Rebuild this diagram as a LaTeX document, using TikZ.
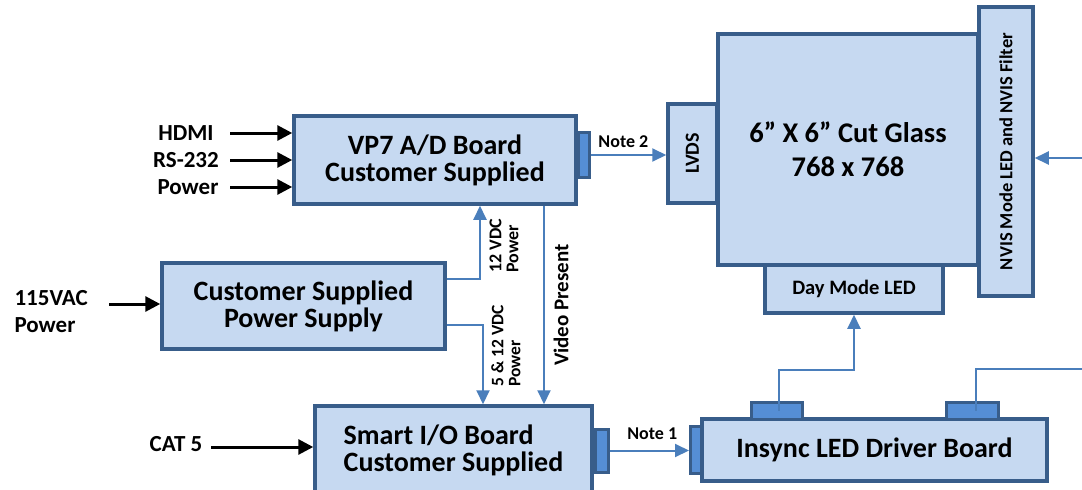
\documentclass[tikz,border=0pt]{standalone}
\usepackage{fontspec}
\setmainfont{Carlito}
\usepackage{graphicx}
\usetikzlibrary{arrows.meta, positioning}

\begin{document}
\begin{tikzpicture}[
    x=1pt, y=-1pt,
    font=\bfseries,
    box/.style={
    	draw=my-dark, fill=my-light,
    	line width=3.5pt, inner sep=0pt, align=center,
    	font=\bfseries\fontsize{28}{27}\selectfont
    }, plug/.style={
    	draw=my-dark, fill=my-mid,
    	line width=3pt, inner sep=0pt
    }, pil/.style={
    	-{Triangle[length=14pt,width=13pt]},
    	draw=my-line, line width=2pt
    }, feed/.style={
    	-{Triangle[length=15pt,width=15pt]},
    	line width=3pt
    }, lbl/.style={
    	font=\bfseries\fontsize{23}{27}\selectfont
    }, note/.style={
    	font=\bfseries\fontsize{18}{17}\selectfont
    }]
    \definecolor{my-light}{RGB}{198, 217, 241}
    \definecolor{my-dark}{RGB}{56, 93, 138}
    \definecolor{my-mid}{RGB}{85, 142, 213}
    \definecolor{my-line}{RGB}{74, 126, 187}

    \useasboundingbox (0,0) rectangle (1082,490);

    %%% BOARDS
    \node[box, minimum width=282pt, minimum height=88pt] (vp7) at (435,160) {VP7 A/D Board\\Customer Supplied};
    \node[box, minimum width=283pt, minimum height=86pt] (psu) at (303.5,306) {Customer Supplied\\Power Supply};
    \node[box, minimum width=277pt, minimum height=89pt, align=left] (smart) at (453.5,450.5) {Smart I/O Board\\Customer Supplied};
    \node[box, minimum width=345pt, minimum height=62pt] (insync) at (874.5,450) {Insync LED Driver Board};

    %%% DISPLAY
    \node[box, minimum width=260pt, minimum height=231pt, font=\bfseries\fontsize{28.5}{34}\selectfont] (glass) at (848,149.5) {6” X 6” Cut Glass\\768 x 768};
    \node[box, minimum width=49pt, minimum height=99pt, font=\bfseries\fontsize{20}{20}\selectfont] (lvds) at (692.5,153.5) {\rotatebox{90}{LVDS}};
    \node[box, minimum width=54pt, minimum height=289pt, font=\bfseries\fontsize{18.5}{18}\selectfont] (nvis) at (1006,151.5) {\rotatebox{90}{NVIS Mode LED and NVIS Filter}};
    \node[box, minimum width=178pt, minimum height=48pt, font=\bfseries\fontsize{20.5}{20}\selectfont] (day) at (854,289) {Day Mode LED};

    %%% PLUGS
    \node[plug, minimum width=11pt, minimum height=45pt] (vp7-plug) at (583.5,155) {};
    \node[plug, minimum width=13pt, minimum height=43pt] (smart-plug) at (601.5,450.5) {};
    \node[plug, minimum width=11pt, minimum height=47pt] (drv-plug) at (696,449.5) {};
    \node[plug, minimum width=51pt, minimum height=17pt] (drv-plug1) at (776.5,410.5) {};
    \node[plug, minimum width=52pt, minimum height=17pt] (drv-plug2) at (972,410.5) {};

    %%% INPUTS
    \node[lbl] (hdmi) at (186,133) {HDMI};
    \node[lbl] (rs232) at (186,160) {RS-232};
    \node[lbl] (pwr) at (188,187) {Power};
    \node[lbl, align=left, anchor=west] (vac) at (11,311.5) {115VAC\\Power};
    \node[lbl] (cat5) at (176,444) {CAT 5};

    \coordinate (feed-x) at (230,0);
    \coordinate (vac-in) at (109,304);
    \coordinate (cat-in) at (211,447);
    \coordinate (nvis-in) at (1090,158);
    \coordinate (drv-out) at (1090,369);

    %%% EDGES
    \draw[feed] (hdmi -| feed-x) -- (hdmi -| vp7.west);
    \draw[feed] (rs232 -| feed-x) -- (rs232 -| vp7.west);
    \draw[feed] (pwr -| feed-x) -- (pwr -| vp7.west);
    \draw[feed] (vac-in) -- (vac-in -| psu.west);
    \draw[feed] (cat-in) -- (cat-in -| smart.west);

    \draw[pil] (vp7-plug.east) -- (vp7-plug.east -| lvds.west) node[note, midway, above=3pt, xshift=-5pt, black] {Note 2};
    \draw[pil] (smart-plug.east) -- (smart-plug.east -| drv-plug.west) node[note, midway, above=7pt, xshift=3pt, black] {Note 1};

    \draw[pil] ([yshift=27pt]psu.east) -| ([xshift=45pt]vp7.south);
    \draw[pil] ([yshift=-19pt]psu.east) -| ([xshift=29.5pt]smart.north);
    \draw[pil] ([xshift=109pt]vp7.south) -- ([xshift=109pt]vp7.south |- smart.north);

    \node[rotate=90, align=left, font=\bfseries\fontsize{18}{17}\selectfont] (lbl-12v) at (504,245.5) {12 VDC\\Power};
    \node[rotate=90, align=left, font=\bfseries\fontsize{17.5}{17}\selectfont] (lbl-5v) at (506,346) {5 \& 12 VDC\\Power};
    \node[rotate=90, font=\bfseries\fontsize{21}{20}\selectfont] (lbl-video) at (561,305) {Video Present};

    \draw[pil] ([xshift=2.5pt]drv-plug1.center) -- ++(0,-41) -| (day.south);
    \draw[draw=my-line, line width=2pt] ([xshift=4pt]drv-plug2.center) |- (drv-out);
    \draw[pil] (nvis-in) -- (nvis-in -| nvis.east);

\end{tikzpicture}
\end{document}
